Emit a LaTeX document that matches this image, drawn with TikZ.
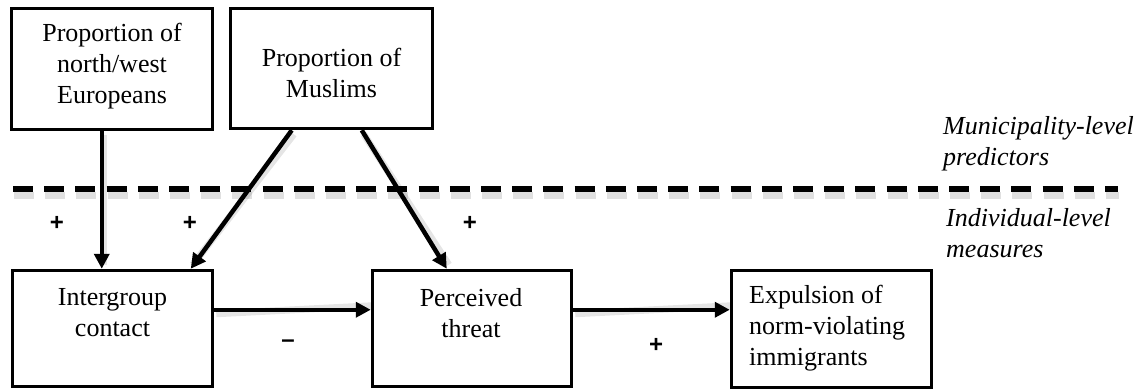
\documentclass[tikz,border=0pt]{standalone}
\usepackage{fontspec}
\setmainfont{Liberation Serif}
\newfontfamily\signfont{Liberation Sans}
\usetikzlibrary{arrows.meta,calc}
\begin{document}
\begin{tikzpicture}[x=1pt,y=-1pt,
  box/.style={draw=black,line width=3.5pt,inner sep=0pt,rectangle},
  txt/.style={inner sep=0pt,align=center,font=\fontsize{26}{31}\selectfont},
  ltxt/.style={inner sep=0pt,align=left,anchor=west,font=\fontsize{26}{31}\selectfont},
  lvl/.style={inner sep=0pt,align=left,anchor=west,font=\fontsize{26}{31}\selectfont\itshape},
  sign/.style={inner sep=0pt,font=\fontsize{24}{24}\selectfont\signfont\bfseries},
  arr/.style={line width=4.5pt,-{Triangle[length=15pt,width=15pt]}},
  shadowline/.style={line width=7pt,black,opacity=0.10},
  dashline/.style={line width=5.5pt,dash pattern=on 20pt off 11.2pt},
]
\useasboundingbox (0,0) rectangle (1148,391);
% boxes
\node[box,minimum width=201pt,minimum height=121pt] (eu) at (112,69) {};
\node[box,minimum width=202pt,minimum height=120pt] (mu) at (331.5,68.5) {};
\node[box,minimum width=200pt,minimum height=116pt] (ig) at (112.5,328.5) {};
\node[box,minimum width=199pt,minimum height=116pt] (pt) at (472,328.5) {};
\node[box,minimum width=200pt,minimum height=117pt] (ex) at (831.5,329) {};
% box texts
\node[txt] (eut) at (112,66.5) {Proportion of\\north/west\\Europeans};
\node[txt] (mut) at (331.5,73) {Proportion of\\Muslims};
\node[txt] (igt) at (112.5,313) {Intergroup\\contact};
\node[txt] (ptt) at (471,313) {Perceived\\threat};
\node[ltxt] (ext) at (749,328) {Expulsion of\\norm-violating\\immigrants};
% level labels
\node[lvl] (muni) at (943,144) {Municipality-level\\predictors};
\node[lvl] (indiv) at (946,233) {Individual-level\\measures};
% dashed divider
\coordinate (dl) at (13,189);
\coordinate (dr) at (1118,189);
\draw[dashline,black,opacity=0.12,line width=7pt] ($(dl)+(1,6)$) -- ($(dr)+(1,6)$);
\draw[dashline] (dl) -- (dr);
% connector points
\coordinate (a1) at ($(eu.south west)+(92,0)$);
\coordinate (a2) at ($(ig.north west)+(91,0)$);
\coordinate (b1) at ($(mu.south west)+(63,0)$);
\coordinate (b2) at ($(ig.north west)+(180,0)$);
\coordinate (c1) at ($(mu.south west)+(133,0)$);
\coordinate (c2) at ($(pt.north west)+(76,0)$);
\coordinate (d1) at ($(ig.north east)+(0,41)$);
\coordinate (d2) at ($(pt.north west)+(0,41)$);
\coordinate (e1) at ($(pt.north east)+(0,41)$);
\coordinate (e2) at ($(ex.north west)+(0,41)$);
% shadows
\foreach \p/\q in {a1/a2,b1/b2,c1/c2,d1/d2,e1/e2}
  \draw[shadowline] ($(\p)+(2,4)$) -- ($(\q)+(2,-4)$);
% arrows
\draw[arr] (a1) -- (a2);
\draw[arr] (b1) -- (b2);
\draw[arr] (c1) -- (c2);
\draw[arr] (d1) -- (d2);
\draw[arr] (e1) -- (e2);
% signs
\node[sign] (s1) at (57,223) {+};
\node[sign] (s2) at (190,223) {+};
\node[sign] (s3) at (470,223) {+};
\node[sign] (s4) at (288,344) {–};
\node[sign] (s5) at (656,345) {+};
\end{tikzpicture}
\end{document}
